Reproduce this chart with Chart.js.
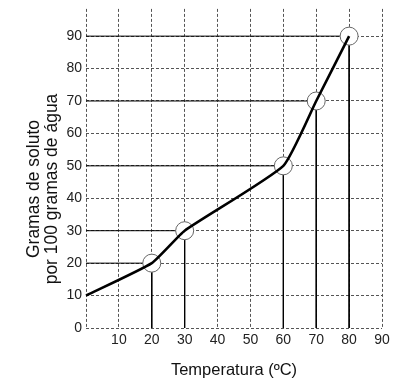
<!DOCTYPE html>
<html><head><meta charset="utf-8">
<script src="https://cdn.jsdelivr.net/npm/chart.js@4"></script>
<style>html,body{margin:0;padding:0;background:#fff}#wrap{width:412px;height:381px}</style>
</head><body><div id="wrap"><canvas id="c" width="412" height="381"></canvas></div>
<script>
const temperatures = [0, 20, 30, 60, 70, 80];
const solubility = [10, 20, 30, 50, 70, 90];
const markedTemps = [20, 30, 60, 70, 80];
const markedGrams = [20, 30, 50, 70, 90];
const xTickValues = [0, 10, 20, 30, 40, 50, 60, 70, 80, 90];
const yTickValues = [0, 10, 20, 30, 40, 50, 60, 70, 80, 90];
const xTitle = 'Temperatura (ºC)';
const yTitleLines = ['Gramas de soluto', 'por 100 gramas de água'];

const FONT = '"Liberation Sans", Arial, sans-serif';

const curve = temperatures.map((t, i) => ({x: t, y: solubility[i]}));
const marks = markedTemps.map((t, i) => ({x: t, y: markedGrams[i]}));
const guides = markedTemps.map((t, i) => ({
  type: 'scatter', showLine: true, order: 2,
  data: [{x: 0, y: markedGrams[i]}, {x: t, y: markedGrams[i]}, {x: t, y: 0}],
  borderColor: '#000', borderWidth: 1, pointRadius: 0, tension: 0
}));

const titlesPlugin = {
  id: 'titles',
  afterDraw(chart) {
    const ctx = chart.ctx, a = chart.chartArea;
    ctx.save();
    ctx.fillStyle = '#111';
    ctx.font = '16.5px ' + FONT;
    ctx.textAlign = 'center';
    ctx.textBaseline = 'alphabetic';
    ctx.fillText(xTitle, (a.left + a.right) / 2, 375);
    ctx.font = '17.5px ' + FONT;
    ctx.translate(0, 189);
    ctx.rotate(-Math.PI / 2);
    ctx.fillText(yTitleLines[0], 0, 39);
    ctx.fillText(yTitleLines[1], 0, 57);
    ctx.restore();
  }
};

new Chart(document.getElementById('c'), {
  type: 'scatter',
  data: {
    datasets: [
      {type: 'line', data: curve, order: 0, borderColor: '#000', borderWidth: 2.6,
       pointRadius: 0, tension: 0.15, fill: false, clip: false},
      {type: 'scatter', data: marks, order: 1, pointRadius: 9, pointBackgroundColor: '#fff',
       pointBorderColor: '#666', pointBorderWidth: 1, clip: false},
      ...guides
    ]
  },
  options: {
    responsive: false, animation: false,
    layout: {autoPadding: false, padding: {top: -3, right: 30, left: 0, bottom: 0}},
    plugins: {legend: {display: false}, tooltip: {enabled: false}},
    scales: {
      x: {
        type: 'linear', min: 0, max: 90,
        afterBuildTicks(s) { s.ticks = xTickValues.map(v => ({value: v})); },
        afterFit(s) { s.height = 53; },
        border: {display: false, dash: [3, 2]},
        grid: {color: '#555', lineWidth: 1, drawTicks: false},
        ticks: {color: '#222', font: {family: FONT, size: 14}, padding: 4, maxRotation: 0,
                callback: v => v === 0 ? '' : String(v)}
      },
      y: {
        type: 'linear', min: 0, max: 98.4,
        afterBuildTicks(s) { s.ticks = yTickValues.map(v => ({value: v})); },
        afterFit(s) { s.width = 86; },
        border: {display: false, dash: [3, 2]},
        grid: {color: '#555', lineWidth: 1, drawTicks: false},
        ticks: {color: '#222', font: {family: FONT, size: 14, lineHeight: 0.7}, padding: 4}
      }
    }
  },
  plugins: [titlesPlugin]
});
</script>
</body></html>
